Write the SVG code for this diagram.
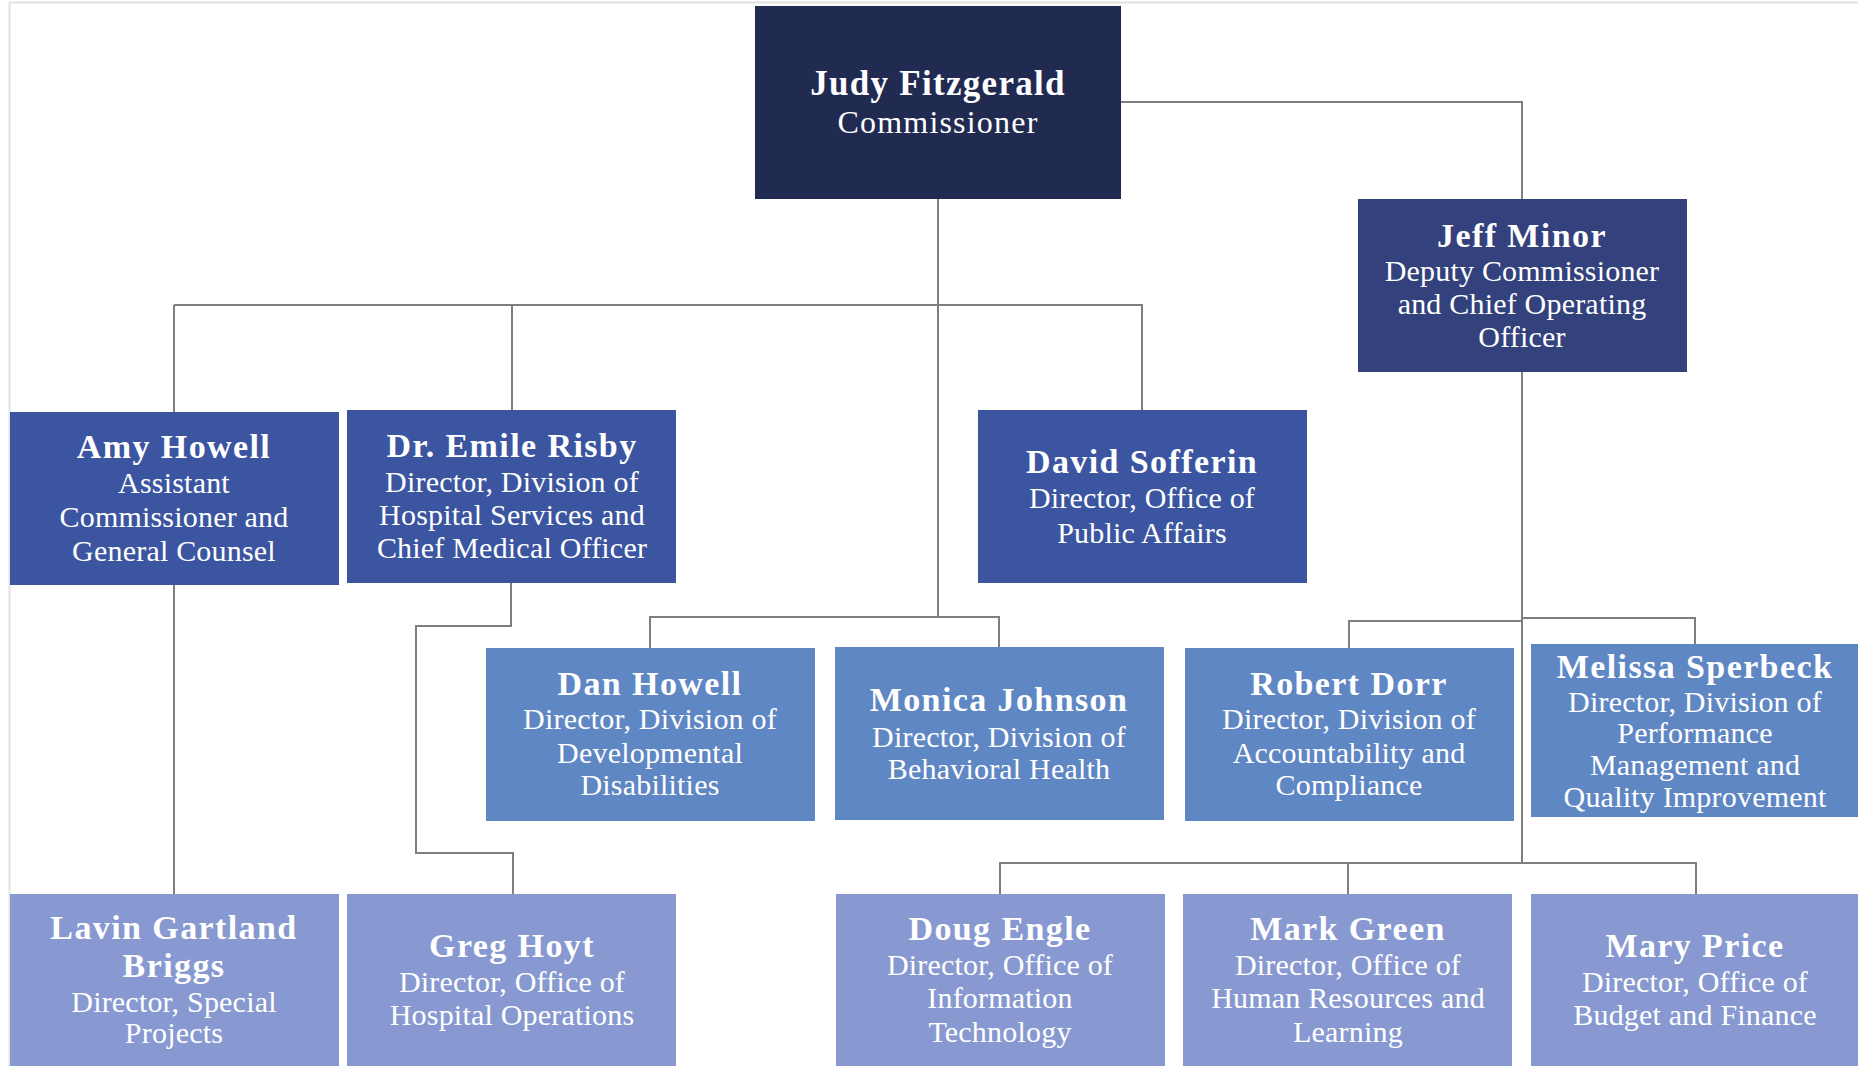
<svg xmlns="http://www.w3.org/2000/svg" width="1858" height="1066" viewBox="0 0 1858 1066">
<style>
text{font-family:"Liberation Serif","Times New Roman",serif;fill:#ffffff;text-anchor:middle}
.n{font-weight:bold;font-size:34px;letter-spacing:1.4px}
.t{font-size:30px;letter-spacing:0.2px}
.c{fill:none;stroke:#7f7f7f;stroke-width:2}
.l0{fill:#212b52}.l1{fill:#33417d}.l2{fill:#3b55a0}.l3{fill:#5f87c4}.l4{fill:#8799d0}
</style>
<rect x="0" y="0" width="1858" height="1066" fill="#ffffff"/>
<path d="M9.5 1066V2.5H1858" fill="none" stroke="#e2e2e2" stroke-width="2"/>
<g id="connectors" class="c">
<path d="M1121 102H1522V199"/>
<path d="M938 199V617"/>
<path d="M174 305H1142V410"/>
<path d="M174 305V412"/>
<path d="M512 305V410"/>
<path d="M650 648V617H999V647"/>
<path d="M174 585V894"/>
<path d="M511 583V626H416V853H513V894"/>
<path d="M1522 372V863"/>
<path d="M1000 894V863H1696V894"/>
<path d="M1348 863V894"/>
<path d="M1349 648V621H1522"/>
<path d="M1522 618H1695V644"/>
</g>
<g id="judy"><rect class="l0" x="755" y="6" width="366" height="193"/>
<text x="938" y="95" class="n" style="font-size:35px;letter-spacing:1.3px">Judy Fitzgerald</text>
<text x="938" y="133" style="font-size:32px;letter-spacing:1.2px">Commissioner</text></g>
<g id="jeff"><rect class="l1" x="1358" y="199" width="329" height="173"/>
<text x="1522" y="247" class="n">Jeff Minor</text>
<text x="1522" y="281" class="t">Deputy Commissioner</text>
<text x="1522" y="314" class="t">and Chief Operating</text>
<text x="1522" y="347" class="t">Officer</text></g>
<g id="amy"><rect class="l2" x="10" y="412" width="329" height="173"/>
<text x="174" y="458" class="n">Amy Howell</text>
<text x="174" y="493" class="t">Assistant</text>
<text x="174" y="527" class="t">Commissioner and</text>
<text x="174" y="561" class="t">General Counsel</text></g>
<g id="emile"><rect class="l2" x="347" y="410" width="329" height="173"/>
<text x="512" y="457" class="n">Dr. Emile Risby</text>
<text x="512" y="492" class="t">Director, Division of</text>
<text x="512" y="525" class="t">Hospital Services and</text>
<text x="512" y="558" class="t">Chief Medical Officer</text></g>
<g id="david"><rect class="l2" x="978" y="410" width="329" height="173"/>
<text x="1142" y="473" class="n">David Sofferin</text>
<text x="1142" y="508" class="t">Director, Office of</text>
<text x="1142" y="543" class="t">Public Affairs</text></g>
<g id="dan"><rect class="l3" x="486" y="648" width="329" height="173"/>
<text x="650" y="695" class="n">Dan Howell</text>
<text x="650" y="729" class="t">Director, Division of</text>
<text x="650" y="763" class="t">Developmental</text>
<text x="650" y="795" class="t">Disabilities</text></g>
<g id="monica"><rect class="l3" x="835" y="647" width="329" height="173"/>
<text x="999" y="711" class="n">Monica Johnson</text>
<text x="999" y="747" class="t">Director, Division of</text>
<text x="999" y="779" class="t">Behavioral Health</text></g>
<g id="robert"><rect class="l3" x="1185" y="648" width="329" height="173"/>
<text x="1349" y="695" class="n">Robert Dorr</text>
<text x="1349" y="729" class="t">Director, Division of</text>
<text x="1349" y="763" class="t">Accountability and</text>
<text x="1349" y="795" class="t">Compliance</text></g>
<g id="melissa"><rect class="l3" x="1531" y="644" width="327" height="173"/>
<text x="1695" y="678" class="n">Melissa Sperbeck</text>
<text x="1695" y="712" class="t">Director, Division of</text>
<text x="1695" y="743" class="t">Performance</text>
<text x="1695" y="775" class="t">Management and</text>
<text x="1695" y="807" class="t">Quality Improvement</text></g>
<g id="lavin"><rect class="l4" x="10" y="894" width="329" height="172"/>
<text x="174" y="939" class="n">Lavin Gartland</text>
<text x="174" y="977" class="n">Briggs</text>
<text x="174" y="1012" class="t">Director, Special</text>
<text x="174" y="1043" class="t">Projects</text></g>
<g id="greg"><rect class="l4" x="347" y="894" width="329" height="172"/>
<text x="512" y="957" class="n">Greg Hoyt</text>
<text x="512" y="992" class="t">Director, Office of</text>
<text x="512" y="1025" class="t">Hospital Operations</text></g>
<g id="doug"><rect class="l4" x="836" y="894" width="329" height="172"/>
<text x="1000" y="940" class="n">Doug Engle</text>
<text x="1000" y="975" class="t">Director, Office of</text>
<text x="1000" y="1008" class="t">Information</text>
<text x="1000" y="1042" class="t">Technology</text></g>
<g id="mark"><rect class="l4" x="1183" y="894" width="329" height="172"/>
<text x="1348" y="940" class="n">Mark Green</text>
<text x="1348" y="975" class="t">Director, Office of</text>
<text x="1348" y="1008" class="t">Human Resources and</text>
<text x="1348" y="1042" class="t">Learning</text></g>
<g id="mary"><rect class="l4" x="1531" y="894" width="327" height="172"/>
<text x="1695" y="957" class="n">Mary Price</text>
<text x="1695" y="992" class="t">Director, Office of</text>
<text x="1695" y="1025" class="t">Budget and Finance</text></g>
</svg>
